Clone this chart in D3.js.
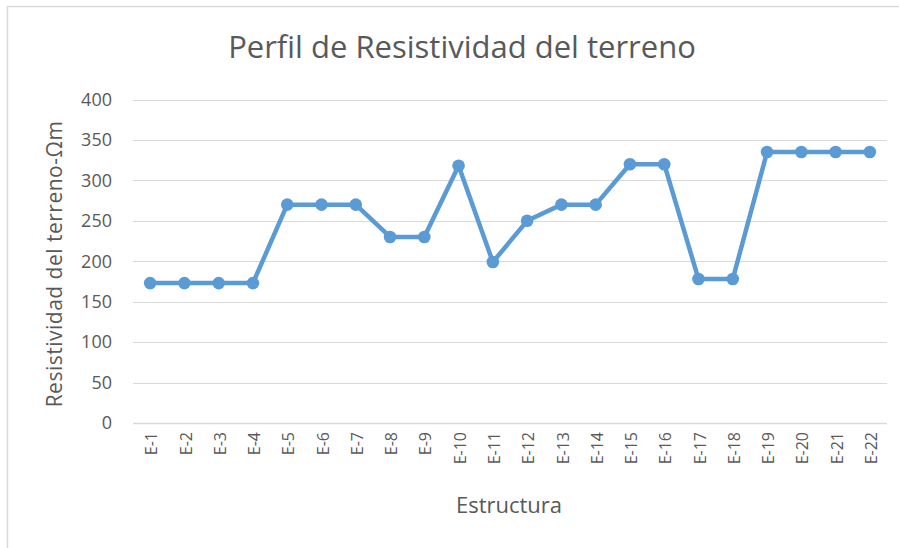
<!DOCTYPE html>
<html>
<head>
<meta charset="utf-8">
<script src="https://cdn.jsdelivr.net/npm/d3@7"></script>
<style>
  html, body { margin: 0; padding: 0; background: #fff; }
  svg { display: block; }
  text { font-family: "Open Sans", "Noto Sans", sans-serif; fill: #595959; }
</style>
</head>
<body>
<div id="chart"></div>
<script>
// Structure labels along the profile
const estructuras = ["E-1","E-2","E-3","E-4","E-5","E-6","E-7","E-8","E-9","E-10","E-11",
                     "E-12","E-13","E-14","E-15","E-16","E-17","E-18","E-19","E-20","E-21","E-22"];
// Measured soil resistivity (Ω·m) at each structure
const resistividad = [173, 173, 173, 173, 270, 270, 270, 230, 230, 318, 199,
                      250, 270, 270, 320, 320, 178, 178, 335, 335, 335, 335];
// Value axis ticks
const yTicks = [0, 50, 100, 150, 200, 250, 300, 350, 400];

const W = 899, H = 548;
const plot = { left: 133, right: 887, top: 99.5, bottom: 423 };

const svg = d3.select("#chart").append("svg")
  .attr("width", W).attr("height", H);

// chart frame (top and left edges visible)
svg.append("path")
  .attr("d", `M7.5,${H} V6.5 H${W}`)
  .attr("fill", "none").attr("stroke", "#d9d9d9").attr("stroke-width", 1.5);

const x = d3.scalePoint().domain(estructuras).range([plot.left, plot.right]).padding(0.5);
const y = d3.scaleLinear().domain([0, 400]).range([plot.bottom, plot.top]);

// horizontal gridlines
svg.append("g")
  .selectAll("line").data(yTicks).join("line")
  .attr("x1", plot.left).attr("x2", plot.right)
  .attr("y1", d => Math.round(y(d)) + 0.5).attr("y2", d => Math.round(y(d)) + 0.5)
  .attr("stroke", "#d9d9d9").attr("stroke-width", d => d === 0 ? 1.5 : 1);

// y axis labels
const yAxis = svg.append("g")
  .attr("transform", `translate(${plot.left},0)`)
  .call(d3.axisLeft(y).tickValues(yTicks).tickSize(0).tickPadding(21));
yAxis.select(".domain").remove();
yAxis.selectAll("text")
  .attr("font-family", "Open Sans, sans-serif")
  .attr("font-size", 18).attr("fill", "#595959");

// x axis labels, rotated
const xAxis = svg.append("g")
  .attr("transform", `translate(0,${plot.bottom})`)
  .call(d3.axisBottom(x).tickSize(0));
xAxis.select(".domain").remove();
xAxis.selectAll("text")
  .attr("font-family", "Open Sans, sans-serif")
  .attr("font-size", 16).attr("fill", "#595959")
  .attr("text-anchor", "end")
  .attr("dy", "0.35em")
  .attr("transform", "translate(1,9) rotate(-90)")
  .attr("x", 0).attr("y", 0);

// resistivity profile line
const pts = estructuras.map((e, i) => ({ e, v: resistividad[i] }));
svg.append("path")
  .datum(pts)
  .attr("fill", "none")
  .attr("stroke", "#5b9bd5")
  .attr("stroke-width", 4.5)
  .attr("stroke-linejoin", "round")
  .attr("d", d3.line().x(d => x(d.e)).y(d => y(d.v)));

svg.append("g")
  .selectAll("circle").data(pts).join("circle")
  .attr("cx", d => x(d.e)).attr("cy", d => y(d.v))
  .attr("r", 6.3).attr("fill", "#5b9bd5");

// titles
svg.append("text")
  .attr("x", 462).attr("y", 58)
  .attr("text-anchor", "middle")
  .attr("font-size", 31)
  .text("Perfil de Resistividad del terreno");

svg.append("text")
  .attr("x", 509).attr("y", 513)
  .attr("text-anchor", "middle")
  .attr("font-size", 22)
  .text("Estructura");

svg.append("text")
  .attr("transform", "translate(62,264) rotate(-90)")
  .attr("text-anchor", "middle")
  .attr("font-size", 21)
  .attr("letter-spacing", 0.5)
  .text("Resistividad del terreno-Ωm");
</script>
</body>
</html>
